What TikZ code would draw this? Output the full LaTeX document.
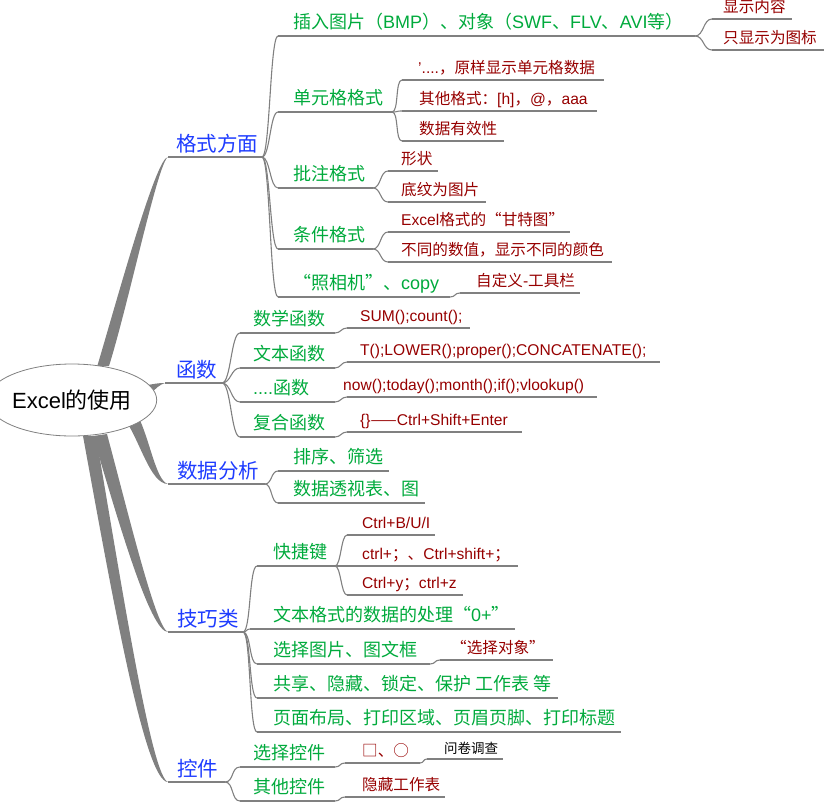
\documentclass[tikz,border=0pt]{standalone}
\usepackage{fontspec}
\setmainfont{Liberation Sans}
\newfontfamily\cjkf{Noto Sans CJK SC}
\newfontfamily\latf{Liberation Sans}
\usetikzlibrary{shapes.geometric}
\ifdefined\newXeTeXintercharclass
  \newXeTeXintercharclass\cjkcls
\else
  \chardef\cjkcls=3
\fi
\newcount\mycnt
\newcommand\setcjkrange[2]{\mycnt=#1\relax\loop\XeTeXcharclass\mycnt=\cjkcls\advance\mycnt by 1\relax\ifnum\mycnt<#2\relax\repeat}
\setcjkrange{"3000}{"3040}
\setcjkrange{"FF00}{"FFF0}
\setcjkrange{"4E00}{"A000}
\XeTeXcharclass"2014=\cjkcls
\XeTeXcharclass"201C=\cjkcls
\XeTeXcharclass"201D=\cjkcls
\XeTeXcharclass"25A1=\cjkcls
\XeTeXcharclass"25CB=\cjkcls
\XeTeXinterchartoks 0 \cjkcls={\cjkf}
\XeTeXinterchartoks 4095 \cjkcls={\cjkf}
\XeTeXinterchartoks \cjkcls 0={\latf}
\XeTeXinterchartokenstate=1
\definecolor{lblue}{RGB}{30,60,255}
\definecolor{lgreen}{RGB}{0,170,60}
\definecolor{lred}{RGB}{150,0,0}
\definecolor{lgrey}{RGB}{128,128,128}
% node with underline: [line style]{name}{text style}{xs}{xe}{uy}{tx}{text}
\newcommand\mmn[8][]{%
  \coordinate (#2-s) at (#4,#6);
  \coordinate (#2-e) at (#5,#6);
  \draw[uline,#1] (#2-s) -- (#2-e);
  \node[#3,anchor=base west,inner sep=0pt] (#2) at (#7,#6) {#8};
}
\newcommand\cn[3][8]{\draw[conn] (#2-e) .. controls +(#1,0) and +(-#1,0) .. (#3-s);}
\begin{document}
\begin{tikzpicture}[x=1pt,y=-1pt,
  uline/.style={draw=lgrey,line width=1.1pt},
  thk/.style={line width=2pt},
  conn/.style={draw=lgrey,line width=1.1pt},
  br/.style={fill=lgrey,draw=none},
  l1/.style={font=\fontsize{20.5}{22}\selectfont,text=lblue,yshift=5.5pt},
  l2/.style={font=\fontsize{18}{20}\selectfont,text=lgreen,yshift=7.5pt},
  l3/.style={font=\fontsize{15.6}{18}\selectfont,text=lred,yshift=6.2pt},
  l4/.style={font=\fontsize{13.5}{15}\selectfont,text=black,yshift=6pt},
]
\useasboundingbox (0,0) rectangle (824,803);

% level 1
\mmn{g1}{l1}{168}{262}{157}{176}{格式方面}
\mmn{g2}{l1}{165}{222}{383}{176}{函数}
\mmn{g3}{l1}{168}{265}{484}{177}{数据分析}
\mmn{g4}{l1}{168}{243}{632}{177}{技巧类}
\mmn{g5}{l1}{168}{225}{782}{177}{控件}

% 格式方面
\mmn{a1}{l2}{278}{695}{36}{293}{插入图片（BMP）、对象（SWF、FLV、AVI等）}
\mmn{a2}{l2}{278}{392}{112}{293}{单元格格式}
\mmn{a3}{l2}{278}{373}{188}{293}{批注格式}
\mmn{a4}{l2}{278}{373}{249}{293}{条件格式}
\mmn{a5}{l2}{278}{450}{297}{293}{“照相机”、copy}
\mmn{b1}{l3}{712}{792}{19}{723}{显示内容}
\mmn{b2}{l3}{712}{824}{50}{723}{只显示为图标}
\mmn{c1}{l3}{402}{604}{80}{418}{'....，原样显示单元格数据}
\mmn[thk]{c2}{l3}{402}{597}{111}{419}{其他格式：[h]，@，aaa}
\mmn{c3}{l3}{402}{504}{141}{419}{数据有效性}
\mmn{d1}{l3}{388}{438}{171}{401}{形状}
\mmn{d2}{l3}{388}{486}{202}{401}{底纹为图片}
\mmn{e1}{l3}{388}{570}{232}{401}{Excel格式的“甘特图”}
\mmn{e2}{l3}{388}{612}{262}{401}{不同的数值，显示不同的颜色}
\mmn{f1}{l3}{460}{580}{293}{476}{自定义-工具栏}

% 函数
\mmn{h1}{l2}{240}{335}{333}{253}{数学函数}
\mmn{h2}{l2}{240}{335}{368}{253}{文本函数}
\mmn{h3}{l2}{240}{335}{402}{253}{....函数}
\mmn{h4}{l2}{240}{335}{437}{253}{复合函数}
\mmn{i1}{l3}{347}{470}{328}{360}{SUM();count();}
\mmn[thk]{i2}{l3}{347}{660}{362}{360}{T();LOWER();proper();CONCATENATE();}
\mmn{i3}{l3}{347}{597}{397}{343}{now();today();month();if();vlookup()}
\mmn{i4}{l3}{347}{522}{432}{360}{\{\}——Ctrl+Shift+Enter}

% 数据分析
\mmn[thk]{j1}{l2}{278}{389}{471}{293}{排序、筛选}
\mmn{j2}{l2}{278}{425}{503}{293}{数据透视表、图}

% 技巧类
\mmn{k1}{l2}{257}{335}{566}{273}{快捷键}
\mmn{k2}{l2}{250}{515}{629}{273}{文本格式的数据的处理“0+”}
\mmn{k3}{l2}{257}{430}{664}{273}{选择图片、图文框}
\mmn{k4}{l2}{257}{558}{698}{273}{共享、隐藏、锁定、保护 工作表 等}
\mmn[thk]{k5}{l2}{257}{621}{732}{273}{页面布局、打印区域、页眉页脚、打印标题}
\mmn{q1}{l3}{347}{435}{535}{362}{Ctrl+B/U/I}
\mmn{q2}{l3}{347}{518}{566}{362}{ctrl+；、Ctrl+shift+；}
\mmn{q3}{l3}{347}{463}{595}{362}{Ctrl+y；ctrl+z}
\mmn[thk]{m1}{l3}{440}{553}{660}{451}{“选择对象”}

% 控件
\mmn[thk]{n1}{l2}{240}{335}{767}{253}{选择控件}
\mmn{n2}{l2}{240}{335}{801}{253}{其他控件}
\mmn{o1}{l3}{345}{420}{763}{362}{□、○}
\mmn{p1}{l4}{427}{503}{759}{444}{问卷调查}
\mmn{o2}{l3}{345}{445}{797}{362}{隐藏工作表}

% connectors
\foreach \c in {a1,a2,a3,a4,a5} {\cn[8]{g1}{\c}}
\cn[9]{a1}{b1} \cn[9]{a1}{b2}
\foreach \c in {c1,c2,c3} {\cn[7]{a2}{\c}}
\cn[8]{a3}{d1} \cn[8]{a3}{d2}
\cn[8]{a4}{e1} \cn[8]{a4}{e2}
\cn[6]{a5}{f1}
\foreach \c in {h1,h2,h3,h4} {\cn[9]{g2}{\c}}
\cn[6]{h1}{i1} \cn[6]{h2}{i2} \cn[6]{h3}{i3} \cn[6]{h4}{i4}
\cn[7]{g3}{j1} \cn[7]{g3}{j2}
\foreach \c in {k1,k3,k4,k5} {\cn[8]{g4}{\c}}
\cn[4]{g4}{k2}
\foreach \c in {q1,q2,q3} {\cn[6]{k1}{\c}}
\cn[6]{k3}{m1}
\cn[9]{g5}{n1} \cn[9]{g5}{n2}
\cn[6]{n1}{o1} \cn[6]{n2}{o2} \cn[4]{o1}{p1}

% thick main branches
\fill[br] (97,367) .. controls (117,300) and (156,157) .. (g1-s) .. controls (158,162) and (129,302) .. (109,366) -- cycle;
\fill[br] (136,387) .. controls (150,385) and (155,383) .. (g2-s) .. controls (155,386) and (148,398) .. (138,410) -- cycle;
\fill[br] (124,418) .. controls (140,440) and (150,484) .. (g3-s) .. controls (156,481) and (150,440) .. (138,416) -- cycle;
\fill[br] (93,436) .. controls (118,520) and (150,632) .. (g4-s) .. controls (156,628) and (130,520) .. (107,434) -- cycle;
\fill[br] (83,436) .. controls (113,600) and (145,782) .. (g5-s) .. controls (152,777) and (124,600) .. (96,436) -- cycle;

% root
\node[ellipse,draw=lgrey,fill=white,line width=0.8pt,minimum width=143pt,minimum height=72pt,inner sep=0pt,font=\fontsize{22}{24}\selectfont] (root) at (72,400) {Excel的使用};
\end{tikzpicture}
\end{document}
